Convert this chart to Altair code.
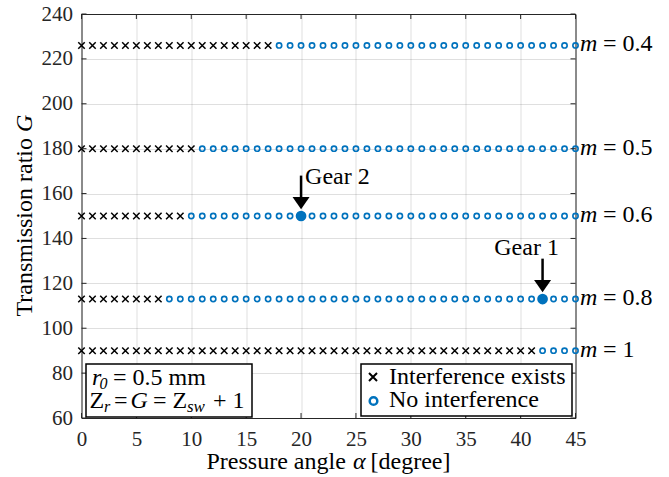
import altair as alt
import pandas as pd

# Pressure angles swept, one design per degree
angles = list(range(0, 46))
# Transmission ratio G of each module row
ratios = [226, 180, 150, 113, 90]
modules = ["0.4", "0.5", "0.6", "0.8", "1"]
# First pressure angle (degree) from which a row is free of interference
first_clear_angle = [18, 11, 10, 8, 42]

# Selected gear designs
gear_names = ["Gear 1", "Gear 2"]
gear_angles = [42, 20]
gear_ratios = [113, 150]

status_names = ["Interference exists", "No interference"]
x_ticks = list(range(0, 50, 5))
y_ticks = list(range(60, 260, 20))

W, H = 494, 404
FONT = "Liberation Serif"
AXIS_GREY = "#262626"
BLUE = "#0072BD"
CROSS = "M-1,-1L1,1M-1,1L1,-1"
HEAD = "M-1,-1.45L1,-1.45L0,0Z"

points = pd.DataFrame(
    [
        {
            "alpha": a,
            "G": g,
            "status": status_names[1] if a >= t else status_names[0],
        }
        for g, t in zip(ratios, first_clear_angle)
        for a in angles
    ]
)
rows = pd.DataFrame({"G": ratios, "m": modules})
gears = pd.DataFrame({"name": gear_names, "alpha": gear_angles, "G": gear_ratios})
xt = pd.DataFrame({"v": x_ticks})
yt = pd.DataFrame({"v": y_ticks})

xs = alt.Scale(domain=[0, 45], nice=False, zero=False)
ys = alt.Scale(domain=[60, 240], nice=False, zero=False)

x_axis = alt.Axis(values=x_ticks, title=None, ticks=False, domain=False,
                  grid=True, labelPadding=10, labelFlush=False)
y_axis = alt.Axis(values=y_ticks, title=None, ticks=False, domain=False,
                  grid=True, labelPadding=9, labelFlush=False)


def X(field):
    return alt.X(field, type="quantitative", scale=xs, axis=x_axis)


def Y(field):
    return alt.Y(field, type="quantitative", scale=ys, axis=y_axis)


def text_at(txt, x, y, size=24, style="normal", align="left",
            baseline="alphabetic", angle=0, color="black"):
    return alt.Chart(pd.DataFrame({"t": [txt]})).mark_text(
        font=FONT, fontSize=size, fontStyle=style, align=align,
        baseline=baseline, angle=angle, color=color,
    ).encode(x=alt.value(x), y=alt.value(y), text="t:N")


crosses = alt.Chart(points).transform_filter(
    alt.datum.status == status_names[0]
).mark_point(shape=CROSS, size=42, strokeWidth=1.5, color="black",
             filled=False, opacity=1).encode(x=X("alpha"), y=Y("G"))

circles = alt.Chart(points).transform_filter(
    alt.datum.status == status_names[1]
).mark_point(shape="circle", size=27, strokeWidth=1.7, color=BLUE,
             filled=False, opacity=1).encode(x=X("alpha"), y=Y("G"))

# Inward tick marks on all four sides of the box
ticks = [
    alt.Chart(xt).mark_rule(color=AXIS_GREY, strokeWidth=1).encode(
        x=X("v"), y=alt.value(H), y2=alt.value(H - 5)),
    alt.Chart(xt).mark_rule(color=AXIS_GREY, strokeWidth=1).encode(
        x=X("v"), y=alt.value(0), y2=alt.value(5)),
    alt.Chart(yt).mark_rule(color=AXIS_GREY, strokeWidth=1).encode(
        y=Y("v"), x=alt.value(0), x2=alt.value(5)),
    alt.Chart(yt).mark_rule(color=AXIS_GREY, strokeWidth=1).encode(
        y=Y("v"), x=alt.value(W), x2=alt.value(W - 5)),
]

# Highlighted gears with arrows and labels
gear_dots = alt.Chart(gears).mark_point(
    shape="circle", size=115, filled=True, color=BLUE, opacity=1
).encode(x=X("alpha"), y=Y("G"))

gear_arrow = alt.Chart(gears).transform_calculate(
    tail="datum.G + 18", base="datum.G + 8"
).mark_rule(color="black", strokeWidth=2.5).encode(
    x=X("alpha"), y=Y("tail:Q"), y2="base:Q"
)
gear_head = alt.Chart(gears).transform_calculate(
    tip="datum.G + 3"
).mark_point(shape=HEAD, size=289, filled=True, color="black",
             opacity=1).encode(x=X("alpha"), y=Y("tip:Q"))

gear1_text = alt.Chart(gears).transform_filter(
    alt.datum.name == gear_names[0]
).transform_calculate(tail="datum.G + 18").mark_text(
    font=FONT, fontSize=24, align="center", baseline="middle", dx=-16, dy=-11
).encode(x=X("alpha"), y=Y("tail:Q"), text="name:N")
gear2_text = alt.Chart(gears).transform_filter(
    alt.datum.name == gear_names[1]
).transform_calculate(tail="datum.G + 18").mark_text(
    font=FONT, fontSize=24, align="left", baseline="middle", dx=4, dy=1
).encode(x=X("alpha"), y=Y("tail:Q"), text="name:N")

# Module labels to the right of each row
m_sym = alt.Chart(rows).mark_text(
    font=FONT, fontSize=24, fontStyle="italic", align="left",
    baseline="alphabetic", dy=6
).encode(x=alt.value(W + 4.5), y=Y("G"), text=alt.value("m"))
m_val = alt.Chart(rows).transform_calculate(
    lab="'= ' + datum.m"
).mark_text(font=FONT, fontSize=24, align="left", baseline="alphabetic",
            dy=6).encode(x=alt.value(W + 27.5), y=Y("G"), text="lab:N")

# Axis titles
titles = [
    text_at("Pressure angle", 125, 448, baseline="middle"),
    text_at("\u03b1", 271.5, 448, style="italic", baseline="middle"),
    text_at("[degree]", 289, 448, baseline="middle"),
    text_at("Transmission ratio", -56.5, 124, align="right",
            baseline="middle", angle=270),
    text_at("G", -56.5, 118, style="italic", align="left",
            baseline="middle", angle=270),
]

# Parameter box, lower left
param_box = alt.Chart(pd.DataFrame({"a": [0]})).mark_rect(
    fill="white", stroke="black", strokeWidth=1.5
).encode(x=alt.value(4.5), x2=alt.value(170.5), y=alt.value(350),
         y2=alt.value(403))
params = [
    text_at("r", 10.5, 371, style="italic"),
    text_at("0", 18, 375, size=16, style="italic"),
    text_at("= 0.5 mm", 31.5, 371),
    text_at("Z", 8, 394),
    text_at("r", 22.5, 398, size=16, style="italic"),
    text_at("=", 32.5, 394),
    text_at("G", 49, 394, style="italic"),
    text_at("= Z", 71.5, 394),
    text_at("sw", 105.5, 398, size=17, style="italic"),
    text_at("+ 1", 131.5, 394),
]

# Legend, lower right
legend_box = alt.Chart(pd.DataFrame({"a": [0]})).mark_rect(
    fill="white", stroke="black", strokeWidth=1.5
).encode(x=alt.value(279.5), x2=alt.value(490.5), y=alt.value(350),
         y2=alt.value(402))
legend_keys = [
    alt.Chart(pd.DataFrame({"a": [0]})).mark_point(
        shape=CROSS, size=64, strokeWidth=2, color="black", filled=False,
        opacity=1).encode(x=alt.value(291.5), y=alt.value(363)),
    alt.Chart(pd.DataFrame({"a": [0]})).mark_point(
        shape="circle", size=58, strokeWidth=2.5, color=BLUE, filled=False,
        opacity=1).encode(x=alt.value(292), y=alt.value(387)),
    text_at(status_names[0], 307.5, 363, baseline="middle"),
    text_at(status_names[1], 307.5, 386, baseline="middle"),
]

chart = alt.layer(
    crosses, circles, *ticks, gear_dots, gear_arrow, gear_head,
    gear1_text, gear2_text, m_sym, m_val, *titles,
    param_box, *params, legend_box, *legend_keys,
).properties(
    width=W, height=H,
    padding={"left": 81.5, "top": 14, "right": 93.5, "bottom": 59},
    autosize=alt.AutoSizeParams(type="none"),
).configure_view(
    stroke=AXIS_GREY, strokeWidth=1
).configure_axis(
    labelFont=FONT, labelFontSize=21, labelColor=AXIS_GREY,
    gridColor=AXIS_GREY, gridOpacity=0.15, gridWidth=1,
)

chart.save("out.html", embed_options={"renderer": "svg", "actions": False})
